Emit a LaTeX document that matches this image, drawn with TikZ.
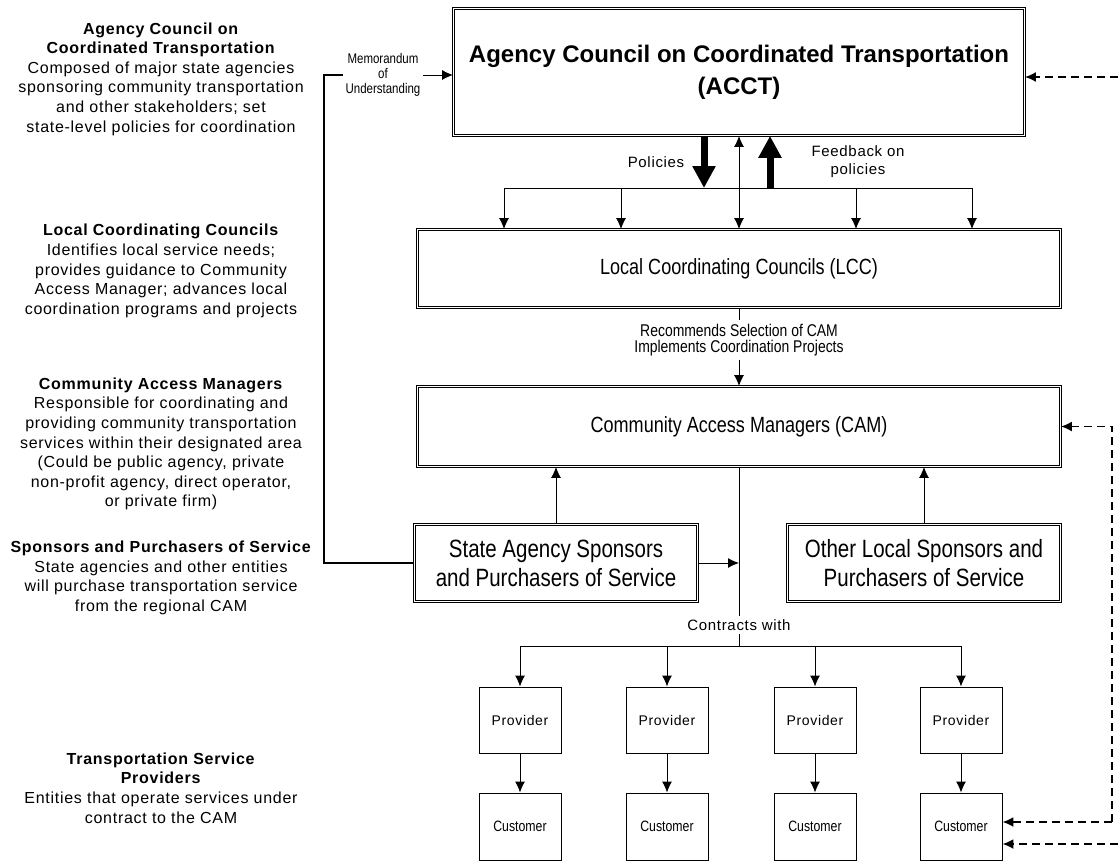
\documentclass[tikz,border=0pt]{standalone}
\usepackage{fontspec}
\setmainfont{Liberation Sans}
\newfontfamily\narrowfont{Liberation Sans}[FakeStretch=0.82]
\newfontfamily\widefont{Liberation Sans}[LetterSpace=4.5]
\usetikzlibrary{arrows.meta,positioning}
\tikzstyle{double box}=[
        draw,
        double,
        double distance = 1.3bp,
        line width = 0.8bp,
        fill = white,
        align = center,
        inner sep = 0pt
    ]
\tikzstyle{small box}=[
    draw,
    line width = 0.9bp,
    minimum width = 82bp,
    minimum height = 66bp,
    inner sep = 0pt
]
\tikzstyle{side note}=[
    align = center,
    font = \widefont\fontsize{16bp}{19.6bp}\selectfont
]
\tikzstyle{fat arrow}=[
    line width = 7bp,
    -{Triangle[width=22bp,length=22bp]}
]
\tikzstyle{dash arrow}=[
    line width = 1.8bp,
    dash pattern = on 8bp off 5bp,
    -{Latex[length=11bp,width=10bp]}
]

\begin{document}
\begin{tikzpicture}[x=1bp, y=-1bp, line width=1bp, >={Latex[length=11bp,width=10bp]}]
        \useasboundingbox (0,0) rectangle (1118,861);

        % boxes
        \node[double box, minimum width=571bp, minimum height=127bp,
              font=\bfseries\fontsize{24bp}{32bp}\selectfont] (acct) at (739,72)
              {Agency Council on Coordinated Transportation\\(ACCT)};
        \node[double box, minimum width=643bp, minimum height=78bp,
              font=\narrowfont\fontsize{22bp}{26bp}\selectfont] (lcc) at (739,268.5)
              {Local Coordinating Councils (LCC)};
        \node[double box, minimum width=643bp, minimum height=80bp,
              font=\narrowfont\fontsize{22bp}{26bp}\selectfont] (cam) at (739,426.5)
              {Community Access Managers (CAM)};
        \node[double box, minimum width=283bp, minimum height=77bp,
              font=\narrowfont\fontsize{25bp}{29bp}\selectfont] (sasp) at (556,563)
              {State Agency Sponsors\\and Purchasers of Service};
        \node[double box, minimum width=273bp, minimum height=77bp,
              font=\narrowfont\fontsize{25bp}{29bp}\selectfont] (olsp) at (924,563)
              {Other Local Sponsors and\\Purchasers of Service};

        % labels on the connectors
        \node[align=center, inner sep=2bp, font=\narrowfont\fontsize{14bp}{15bp}\selectfont] (memo) at (383,75)
              {Memorandum\\of\\Understanding};
        \node[font=\widefont\fontsize{15bp}{18bp}\selectfont] (pollab) at (656,162) {Policies};
        \node[align=center, font=\widefont\fontsize{15bp}{18bp}\selectfont] (fbklab) at (858,162)
              {Feedback on\\policies};
        \node[align=center, inner sep=3bp, font=\narrowfont\fontsize{17bp}{16.5bp}\selectfont] (rec) at (739,340)
              {Recommends Selection of CAM\\Implements Coordination Projects};
        \node[inner sep=3bp, font=\widefont\fontsize{15bp}{18bp}\selectfont] (contr) at (739,625) {Contracts with};

        % providers and customers
        \foreach \x [count=\i] in {520,667,815,961} {
            \node[small box, font=\widefont\fontsize{14bp}{16bp}\selectfont] (pr\i) at (\x,720) {Provider};
            \node[small box, minimum height=67bp, font=\narrowfont\fontsize{15bp}{16bp}\selectfont] (cu\i) at (\x,826.5) {Customer};
            \draw[->] (pr\i) -- (cu\i);
        }

        % ACCT to LCC
        \coordinate (pol) at (704,188);
        \coordinate (fbk) at (770,188);
        \foreach \x [count=\i] in {504,621,856,972} {
            \coordinate (br\i) at (\x,188);
            \draw[->] (br\i) -- (br\i |- lcc.north);
        }
        \draw (br1) -- (br4);
        \draw[<->] (acct.south) -- (lcc.north);
        \draw[fat arrow] (pol |- acct.south) -- (pol);
        \draw[fat arrow] (fbk) -- (fbk |- acct.south);

        % LCC to CAM, sponsors to CAM
        \draw (lcc.south) -- (rec.north);
        \draw[->] (rec.south) -- (cam.north);
        \draw[->] (sasp.north) -- (sasp.north |- cam.south);
        \draw[->] (olsp.north) -- (olsp.north |- cam.south);

        % CAM contracts with providers
        \coordinate (ct) at (739,646);
        \draw (cam.south) -- (contr.north);
        \draw (contr.south) -- (ct);
        \draw[->] (sasp.east) -- (sasp.east -| cam.south);
        \draw (ct -| pr1.north) -- (ct -| pr4.north);
        \foreach \i in {1,...,4}
            \draw[->] (ct -| pr\i.north) -- (pr\i.north);

        % memorandum of understanding
        \coordinate (lc) at (324,75);
        \draw[line width=1.8bp] (sasp.west) -| (lc) -- (memo.west);
        \draw[->] (memo.east) -- (memo.east -| acct.west);

        % dashed feedback on the right
        \coordinate (rtop) at (1118,77);
        \coordinate (rmid) at (1112,822);
        \coordinate (rbot) at (1118,844);
        \draw[dash arrow] (rtop) -- (rtop -| acct.east);
        \draw[dash arrow] (rmid) |- (cam.east);
        \draw[dash arrow] (rmid) -- (rmid -| cu4.east);
        \draw[dash arrow] (rbot) -- (rbot -| cu4.east);

        % notes on the left
        \node[side note] (n1) at (161,79)
            {\textbf{Agency Council on}\\\textbf{Coordinated Transportation}\\Composed of major state agencies\\sponsoring community transportation\\and other stakeholders; set\\state-level policies for coordination};
        \node[side note] (n2) at (161,271)
            {\textbf{Local Coordinating Councils}\\Identifies local service needs;\\provides guidance to Community\\Access Manager; advances local\\coordination programs and projects};
        \node[side note] (n3) at (161,444)
            {\textbf{Community Access Managers}\\Responsible for coordinating and\\providing community transportation\\services within their designated area\\(Could be public agency, private\\non-profit agency, direct operator,\\or private firm)};
        \node[side note] (n4) at (161,578)
            {\textbf{Sponsors and Purchasers of Service}\\State agencies and other entities\\will purchase transportation service\\from the regional CAM};
        \node[side note] (n5) at (161,788)
            {\textbf{Transportation Service}\\\textbf{Providers}\\Entities that operate services under\\contract to the CAM};

    \end{tikzpicture}
\end{document}
